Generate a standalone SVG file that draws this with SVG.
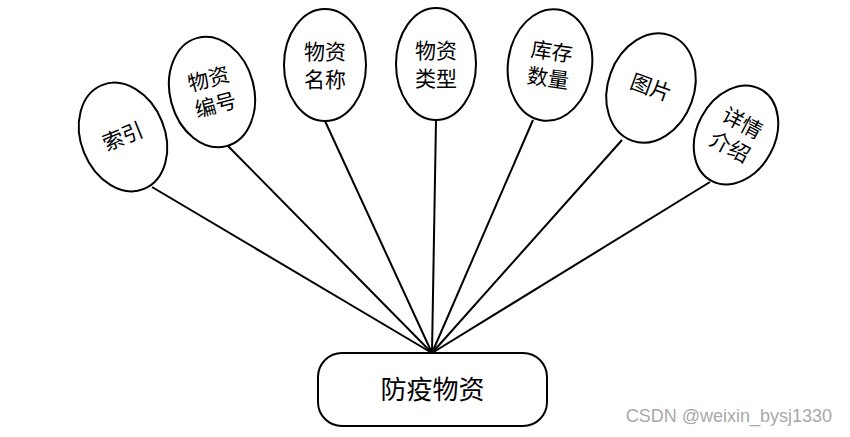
<svg xmlns="http://www.w3.org/2000/svg" width="850" height="437" viewBox="0 0 850 437">
<style>
.e{fill:#fff;stroke:#000;stroke-width:2}
.t{font-family:"Noto Sans CJK SC","Liberation Sans",sans-serif;font-size:21px;fill:#000;text-anchor:middle}
.c line{stroke:#000;stroke-width:2}
</style>
<rect width="850" height="437" fill="#fff"/>
<g class="c" id="connectors">
<line x1="152" y1="187" x2="432" y2="353"/>
<line x1="227" y1="145" x2="432" y2="353"/>
<line x1="325" y1="121" x2="432" y2="353"/>
<line x1="436" y1="120" x2="432" y2="353"/>
<line x1="533" y1="120" x2="432" y2="353"/>
<line x1="622" y1="140" x2="432" y2="353"/>
<line x1="710" y1="182" x2="432" y2="353"/>
</g>
<g id="n1" transform="translate(123,137) rotate(-22)">
<ellipse class="e" cx="0" cy="0" rx="42" ry="56"/>
<text class="t" x="0" y="7">索引</text>
</g>
<g id="n2" transform="translate(212,92) rotate(-15)">
<ellipse class="e" cx="0" cy="0" rx="42" ry="56"/>
<text class="t" x="0" y="-6">物资</text>
<text class="t" x="0" y="21">编号</text>
</g>
<g id="n3" transform="translate(325,65)">
<ellipse class="e" cx="0" cy="0" rx="41" ry="56"/>
<text class="t" x="0" y="-6">物资</text>
<text class="t" x="0" y="22">名称</text>
</g>
<g id="n4" transform="translate(436,64)">
<ellipse class="e" cx="0" cy="0" rx="40" ry="56"/>
<text class="t" x="0" y="-6">物资</text>
<text class="t" x="0" y="22">类型</text>
</g>
<g id="n5" transform="translate(550,65) rotate(8)">
<ellipse class="e" cx="0" cy="0" rx="42" ry="56"/>
<text class="t" x="0" y="-6">库存</text>
<text class="t" x="0" y="21">数量</text>
</g>
<g id="n6" transform="translate(651,88) rotate(20)">
<ellipse class="e" cx="0" cy="0" rx="43" ry="56"/>
<text class="t" x="0" y="7">图片</text>
</g>
<g id="n7" transform="translate(736,135) rotate(28)">
<ellipse class="e" cx="0" cy="0" rx="39" ry="52"/>
<text class="t" x="0" y="-6">详情</text>
<text class="t" x="0" y="21">介绍</text>
</g>
<g id="main">
<rect class="e" x="318" y="353" width="229" height="73" rx="24" ry="24"/>
<text x="432.5" y="399" font-family="'Noto Sans CJK SC','Liberation Sans',sans-serif" font-size="26" text-anchor="middle" fill="#000">防疫物资</text>
</g>
<text x="832" y="422" font-family="'Liberation Sans',Arial,sans-serif" font-size="18" text-anchor="end" fill="#a8a8a8">CSDN @weixin_bysj1330</text>
</svg>
